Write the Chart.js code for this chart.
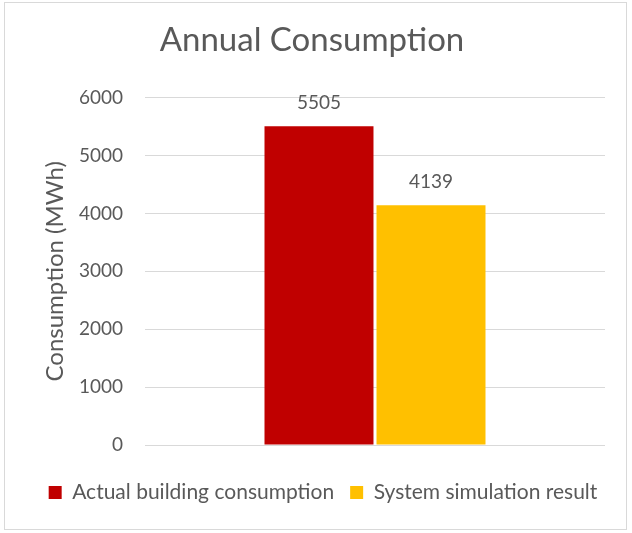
<!DOCTYPE html>
<html>
<head>
<meta charset="utf-8">
<title>Annual Consumption</title>
<script src="https://cdn.jsdelivr.net/npm/chart.js@4.4.0/dist/chart.umd.min.js"></script>
<style>
  body { margin: 0; background: #fff; }
  #wrap { width: 632px; height: 533px; position: relative; }
</style>
</head>
<body>
<div id="wrap"><canvas id="chart-consumption"></canvas></div>
<script>
// data of the chart
const categories = ['Annual'];
const seriesNames = ['Actual building consumption', 'System simulation result'];
const actualConsumption = [5505];
const simulationResult = [4139];
const yTicks = [0, 1000, 2000, 3000, 4000, 5000, 6000];

const textColor = '#595959';
const fontName = 'Lato, "Noto Sans", sans-serif';

// ve so lieu tren dau cot
const barValueLabels = {
  id: 'barValueLabels',
  afterDatasetsDraw(chart) {
    const ctx = chart.ctx;
    ctx.save();
    ctx.font = '19px ' + fontName;
    ctx.fillStyle = textColor;
    ctx.textAlign = 'center';
    ctx.textBaseline = 'middle';
    chart.data.datasets.forEach((ds, i) => {
      chart.getDatasetMeta(i).data.forEach((bar, j) => {
        ctx.fillText(ds.data[j], bar.x, bar.y - 23);
      });
    });
    ctx.restore();
  }
};

// khung vien ngoai + can chinh tieu de / chu thich
const outerBorder = {
  id: 'outerBorder',
  afterLayout(chart) {
    chart.titleBlock.left += 2;
    chart.titleBlock.right += 2;
    chart.legend.left += 13;
    chart.legend.right += 13;
  },
  afterDraw(chart) {
    const ctx = chart.ctx;
    ctx.save();
    ctx.strokeStyle = '#d9d9d9';
    ctx.lineWidth = 1;
    ctx.strokeRect(4.5, 2.5, 622, 527);
    ctx.restore();
  }
};

const chart = new Chart(document.getElementById('chart-consumption'), {
  type: 'bar',
  data: {
    labels: categories,
    datasets: [
      {
        label: seriesNames[0],
        data: actualConsumption,
        backgroundColor: '#C00000',
        categoryPercentage: 0.487,
        barPercentage: 0.973
      },
      {
        label: seriesNames[1],
        data: simulationResult,
        backgroundColor: '#FFC000',
        categoryPercentage: 0.487,
        barPercentage: 0.973
      }
    ]
  },
  options: {
    responsive: true,
    maintainAspectRatio: false,
    animation: false,
    layout: { padding: { left: 15, right: 27, top: 0, bottom: 20 } },
    plugins: {
      title: {
        display: true,
        text: 'Annual Consumption',
        color: textColor,
        font: { family: fontName, size: 33, weight: 'normal' },
        padding: { top: 21, bottom: 37 }
      },
      legend: {
        position: 'bottom',
        labels: {
          color: textColor,
          font: { family: fontName, size: 21 },
          boxWidth: 13,
          boxHeight: 13,
          padding: 16
        }
      },
      tooltip: { enabled: false }
    },
    scales: {
      x: {
        // chi giu khoang trong giua truc va chu thich
        display: true,
        grid: { display: false },
        border: { display: false },
        ticks: { display: false },
        afterFit: axis => { axis.height = 21; }
      },
      y: {
        min: 0,
        max: 6000,
        afterBuildTicks: axis => { axis.ticks = yTicks.map(v => ({ value: v })); },
        afterFit: axis => { axis.width = 130; },
        grid: { color: '#d9d9d9', drawTicks: false },
        border: { display: false },
        ticks: {
          color: textColor,
          padding: 22,
          font: { family: fontName, size: 19 },
          callback: value => String(value)
        },
        title: {
          display: true,
          text: 'Consumption (MWh)',
          color: textColor,
          font: { family: fontName, size: 24 },
          padding: { top: 26, bottom: 6 }
        }
      }
    }
  },
  plugins: [barValueLabels, outerBorder]
});
</script>
</body>
</html>
